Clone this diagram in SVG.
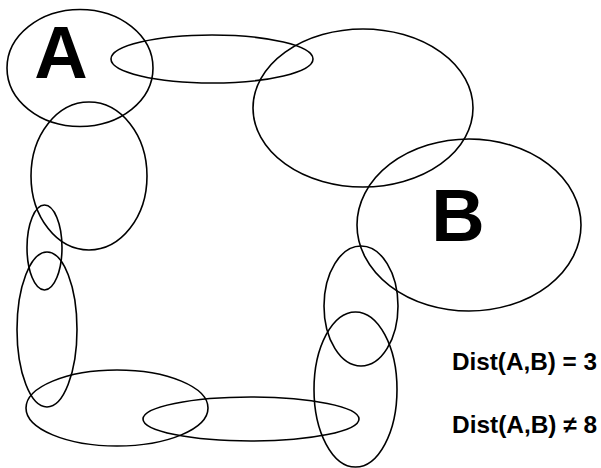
<svg xmlns="http://www.w3.org/2000/svg" width="601" height="468" viewBox="0 0 601 468">
<style>
.e{fill:none;stroke:#000;stroke-width:1.6}
.big{font-family:"Liberation Sans",Arial,sans-serif;font-weight:bold;font-size:74px;fill:#000}
.lab{font-family:"Liberation Sans",Arial,sans-serif;font-weight:bold;font-size:24px;fill:#000}
</style>
<rect width="601" height="468" fill="#fff"/>
<g id="nodeA"><ellipse class="e" cx="80" cy="68" rx="73" ry="58.5"/><text class="big" x="61" y="78" text-anchor="middle">A</text></g>
<g id="n1"><ellipse class="e" cx="212" cy="59" rx="101" ry="24"/></g>
<g id="n2"><ellipse class="e" cx="363" cy="108" rx="110" ry="79"/></g>
<g id="nodeB"><ellipse class="e" cx="469" cy="225" rx="112" ry="86"/><text class="big" x="458" y="241" text-anchor="middle">B</text></g>
<g id="n3"><ellipse class="e" cx="89" cy="176" rx="58" ry="74"/></g>
<g id="n4"><ellipse class="e" cx="44.5" cy="247.5" rx="17.5" ry="42.5"/></g>
<g id="n5"><ellipse class="e" cx="47" cy="329.5" rx="30" ry="77.5"/></g>
<g id="n6"><ellipse class="e" cx="117" cy="408" rx="91" ry="38"/></g>
<g id="n7"><ellipse class="e" cx="251" cy="419" rx="108" ry="22"/></g>
<g id="n8"><ellipse class="e" cx="361" cy="306" rx="37" ry="60"/></g>
<g id="n9"><ellipse class="e" cx="355.5" cy="389.5" rx="41.5" ry="77.5"/></g>
<g id="connectors"></g>
<g id="labels">
<text class="lab" x="452" y="370" textLength="145" lengthAdjust="spacingAndGlyphs">Dist(A,B) = 3</text>
<text class="lab" x="452" y="433" textLength="145" lengthAdjust="spacingAndGlyphs">Dist(A,B) ≠ 8</text>
</g>
</svg>
